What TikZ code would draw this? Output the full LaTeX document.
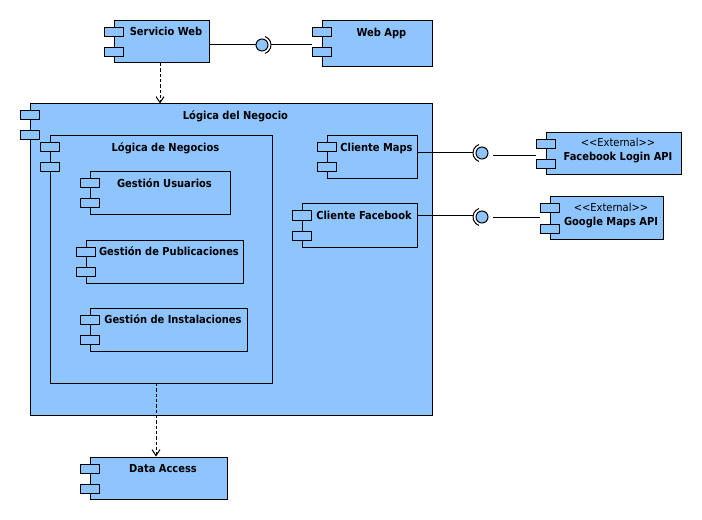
\documentclass[tikz,border=0pt]{standalone}
\usepackage{fontspec}
\setmainfont{DejaVu Sans Condensed}
\usetikzlibrary{arrows.meta,fit}
\definecolor{compblue}{RGB}{142,197,255}
\tikzset{
  compbox/.style={draw=black, fill=compblue, line width=0.75pt, inner sep=0pt},
  comptab/.style={draw=black, fill=compblue, line width=0.75pt, inner sep=0pt,
    minimum width=14.25pt, minimum height=6.75pt, rectangle},
  ttl/.style={anchor=base, inner sep=0pt, font=\fontsize{8.25}{10}\selectfont\bfseries},
  stereo/.style={anchor=base, inner sep=0pt, font=\fontsize{8.25}{10}\selectfont},
  iface/.style={circle, draw=black, fill=compblue, line width=0.75pt, inner sep=0pt, minimum size=9pt},
  wire/.style={draw=black, line width=0.75pt},
  dep/.style={draw=black, line width=0.75pt, dash pattern=on 2.5pt off 1.5pt,
    -{Straight Barb[length=4.5pt,width=6pt]}},
}
\newcommand\ucompshape[5]{%
  \node[compbox, fit={(#2,#3) (#4,#5)}] (#1) {};
  \node[comptab] (#1-t1) at ({#2-0.5},{#3+11.5}) {};
  \node[comptab] (#1-t2) at ({#2-0.5},{#3+31.5}) {};
}
\newcommand\ucomp[6]{%
  \ucompshape{#1}{#2}{#3}{#4}{#5}
  \node[ttl] (#1-l) at ({(#2+9+#4)/2},{#3+15.5}) {#6};
}
\newcommand\ucompext[6]{%
  \ucompshape{#1}{#2}{#3}{#4}{#5}
  \node[stereo] (#1-s) at ({(#2+9+#4)/2},{#3+14}) {<{}<External>{}>};
  \node[ttl] (#1-l) at ({(#2+9+#4)/2},{#3+28}) {#6};
}
\begin{document}
\begin{tikzpicture}[x=0.75pt,y=-0.75pt]
\useasboundingbox[fill=white] (0,0) rectangle (702,520);

\ucomp{sw}{114}{20.5}{209}{63}{Servicio Web}
\ucomp{wa}{322}{21}{432}{67}{Web App}

\ucomp{ln}{30}{104}{432}{415}{Lógica del Negocio}
\ucomp{lns}{50}{136}{272}{383}{Lógica de Negocios}
\ucomp{gu}{90}{172}{230}{215}{Gestión Usuarios}
\ucomp{gp}{86}{240}{243}{283}{Gestión de Publicaciones}
\ucomp{gi}{90}{308}{247}{351}{Gestión de Instalaciones}
\ucomp{cm}{327}{136}{417}{179}{Cliente Maps}
\ucomp{cf}{302}{204}{417}{247}{Cliente Facebook}

\ucomp{da}{90}{457}{227}{499}{Data Access}

\ucompext{fb}{546}{133}{681}{175}{Facebook Login API}
\ucompext{gm}{550}{197}{663}{239}{Google Maps API}

% interfaces
\node[iface] (i1) at (262,45) {};
\node[iface] (i2) at (482,153) {};
\node[iface] (i3) at (482,217) {};
\draw[wire] ([shift={(70:6.75pt)}]i1.center) arc[start angle=70,end angle=-70,radius=6.75pt];
\draw[wire] ([shift={(110:6.75pt)}]i2.center) arc[start angle=110,end angle=250,radius=6.75pt];
\draw[wire] ([shift={(110:6.75pt)}]i3.center) arc[start angle=110,end angle=250,radius=6.75pt];

\coordinate (i1a) at (271,45);
\coordinate (i2a) at (473,152.5);
\coordinate (i2b) at (493,155.5);
\coordinate (i3a) at (473,215.5);
\coordinate (i3b) at (493,217);

\draw[wire] (sw.east |- i1) -- (i1.west);
\draw[wire] (i1a) -- (wa-t2.west |- i1a);
\draw[wire] (cm.east |- i2a) -- (i2a);
\draw[wire] (i2b) -- (fb-t1.west |- i2b);
\draw[wire] (cf.east |- i3a) -- (i3a);
\draw[wire] (i3b) -- (gm-t1.west |- i3b);

% dependencies
\coordinate (d1) at (160,63);
\coordinate (d2) at (156,383);
\draw[dep] (d1) -- (d1 |- ln.north);
\draw[dep] (d2) -- (d2 |- da.north);
\end{tikzpicture}
\end{document}
